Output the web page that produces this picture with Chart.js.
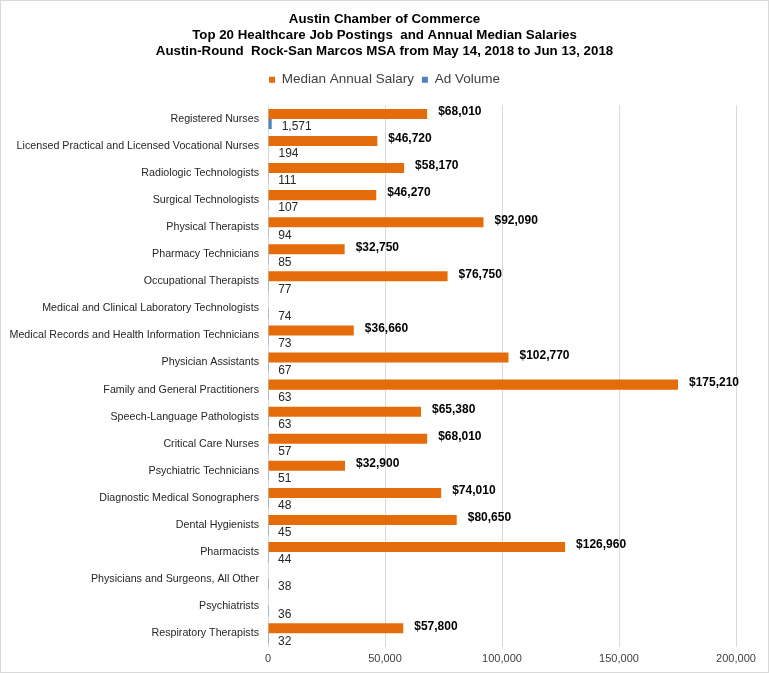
<!DOCTYPE html>
<html><head><meta charset="utf-8">
<script src="https://cdn.jsdelivr.net/npm/chart.js@4/dist/chart.umd.min.js"></script>
<style>
html,body{margin:0;padding:0;background:#fff;}
#wrap{width:769px;height:673px;box-sizing:border-box;border:1px solid #d9d9d9;position:relative;}
</style></head>
<body><div id="wrap"><canvas id="c"></canvas></div>
<script>
const categories = ["Registered Nurses","Licensed Practical and Licensed Vocational Nurses","Radiologic Technologists","Surgical Technologists","Physical Therapists","Pharmacy Technicians","Occupational Therapists","Medical and Clinical Laboratory Technologists","Medical Records and Health Information Technicians","Physician Assistants","Family and General Practitioners","Speech-Language Pathologists","Critical Care Nurses","Psychiatric Technicians","Diagnostic Medical Sonographers","Dental Hygienists","Pharmacists","Physicians and Surgeons, All Other","Psychiatrists","Respiratory Therapists"];
const medianSalary = [68010,46720,58170,46270,92090,32750,76750,null,36660,102770,175210,65380,68010,32900,74010,80650,126960,null,null,57800];
const adVolume = [1571,194,111,107,94,85,77,74,73,67,63,63,57,51,48,45,44,38,36,32];
const xTicks = [0,50000,100000,150000,200000];
const titleLines = ["Austin Chamber of Commerce","Top 20 Healthcare Job Postings  and Annual Median Salaries","Austin-Round  Rock-San Marcos MSA from May 14, 2018 to Jun 13, 2018"];

const FONT = "'Liberation Sans', Arial, sans-serif";
const fmt = v => v.toLocaleString('en-US');

const labelPlugin = {
  id: 'barLabels',
  afterDatasetsDraw(chart) {
    const ctx = chart.ctx;
    ctx.save();
    ctx.textBaseline = 'middle';
    ctx.textAlign = 'left';
    chart.data.datasets.forEach((ds, di) => {
      const meta = chart.getDatasetMeta(di);
      meta.data.forEach((el, i) => {
        const v = ds.data[i];
        if (v === null || v === undefined) return;
        if (di === 0) {
          ctx.font = "bold 12px " + FONT;
          ctx.fillStyle = '#000';
          ctx.fillText('$' + fmt(v), el.x + 11, el.y - 2);
        } else {
          ctx.font = "12px " + FONT;
          ctx.fillStyle = '#262626';
          ctx.fillText(fmt(v), el.x + 10, el.y + 3);
        }
      });
    });
    ctx.restore();
  }
};

const headerLayout = {
  id: 'headerLayout',
  beforeInit(chart) {
    const orig = chart.legend.fit;
    chart.legend.fit = function () { orig.call(this); this.height += 9; };
  },
  afterLayout(chart) {
    [chart.titleBlock, chart.legend].forEach(b => {
      if (!b) return;
      b.left = 0; b.right = chart.width; b.width = chart.width;
    });
  }
};

new Chart(document.getElementById('c'), {
  type: 'bar',
  data: {
    labels: categories,
    datasets: [
      {label: 'Median Annual Salary', data: medianSalary, backgroundColor: '#E46C0A', categoryPercentage: 0.74, barPercentage: 1.0},
      {label: 'Ad Volume', data: adVolume, backgroundColor: '#4F81BD', categoryPercentage: 0.74, barPercentage: 1.0}
    ]
  },
  options: {
    indexAxis: 'y',
    responsive: true,
    maintainAspectRatio: false,
    animation: false,
    layout: {padding: {top: 10, right: 32, left: 0, bottom: 0}},
    plugins: {
      title: {display: true, text: titleLines, color: '#000', font: {family: FONT, size: 13.3, weight: 'bold', lineHeight: 1.2}, padding: {top: 0, bottom: 6}},
      legend: {display: true, position: 'top', labels: {boxWidth: 6, boxHeight: 6, color: '#404040', font: {family: FONT, size: 13.5}, padding: 8}},
      tooltip: {enabled: false}
    },
    scales: {
      x: {
        min: 0, max: 200000,
        afterBuildTicks: s => { s.ticks = xTicks.map(v => ({value: v})); },
        ticks: {color: '#404040', font: {family: FONT, size: 11}, callback: v => fmt(v), maxRotation: 0, padding: 6},
        grid: {color: '#d9d9d9', drawTicks: false},
        border: {display: false}
      },
      y: {
        afterFit: s => { s.width = 267; },
        ticks: {color: '#262626', font: {family: FONT, size: 10.7}, padding: 9},
        grid: {display: false, drawTicks: false},
        border: {display: false}
      }
    }
  },
  plugins: [labelPlugin, headerLayout]
});
</script></body></html>
